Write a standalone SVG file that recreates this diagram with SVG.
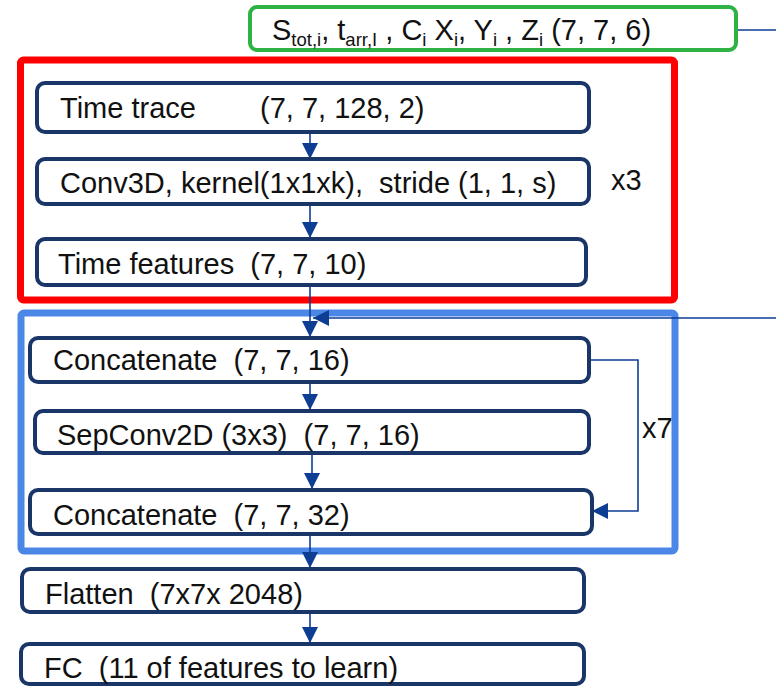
<svg xmlns="http://www.w3.org/2000/svg" width="776" height="687" viewBox="0 0 776 687">
<style>
text{font-family:"Liberation Sans",Arial,sans-serif;font-size:29px;fill:#111;white-space:pre}
.sub{font-size:18.5px}
.node{fill:#fff;stroke:#1a3668;stroke-width:4}
.conn{stroke:#0e3d94;stroke-width:1.6;fill:none}
</style>
<defs>
<marker id="ahl" markerWidth="16" markerHeight="16" refX="16" refY="8" orient="auto" markerUnits="userSpaceOnUse" viewBox="0 0 16 16">
<path d="M0,0 L16,8 L0,16 Z" fill="#0e3d94"/>
</marker>
</defs>
<rect width="776" height="687" fill="#fff"/>
<g id="group-time">
<rect x="20.5" y="60" width="654" height="240" rx="3" fill="none" stroke="#fe0000" stroke-width="7"/>
</g>
<g id="group-conv">
<rect x="21" y="313" width="654" height="238" rx="3" fill="none" stroke="#4a87e6" stroke-width="7"/>
</g>
<g id="connectors">
<line class="conn" x1="736" y1="30" x2="776" y2="30"/>
<line class="conn" x1="310" y1="133" x2="310" y2="159" marker-end="url(#ahl)"/>
<line class="conn" x1="310" y1="204" x2="310" y2="238" marker-end="url(#ahl)"/>
<line class="conn" x1="310" y1="285" x2="310" y2="337" marker-end="url(#ahl)"/>
<line class="conn" x1="776" y1="318" x2="313" y2="318" marker-end="url(#ahl)"/>
<line class="conn" x1="310" y1="382" x2="310" y2="410" marker-end="url(#ahl)"/>
<line class="conn" x1="312" y1="453" x2="312" y2="489" marker-end="url(#ahl)"/>
<polyline class="conn" points="589,360 638,360 638,511 592,511" marker-end="url(#ahl)"/>
<line class="conn" x1="310" y1="534" x2="310" y2="568" marker-end="url(#ahl)"/>
<line class="conn" x1="310" y1="612" x2="310" y2="643" marker-end="url(#ahl)"/>
</g>
<g id="node-input">
<rect x="250" y="7" width="486" height="43" rx="7" fill="#fff" stroke="#2eb244" stroke-width="4"/>
<text x="272" y="40">S<tspan class="sub" dy="6">tot,i</tspan><tspan dy="-6">, t</tspan><tspan class="sub" dy="6">arr,I</tspan><tspan dy="-6"> , C</tspan><tspan class="sub" dy="6">i</tspan><tspan dy="-6"> X</tspan><tspan class="sub" dy="6">i</tspan><tspan dy="-6">, Y</tspan><tspan class="sub" dy="6">i</tspan><tspan dy="-6"> , Z</tspan><tspan class="sub" dy="6">i</tspan><tspan dy="-6"> (7, 7, 6)</tspan></text>
</g>
<g id="node-timetrace">
<rect class="node" x="37" y="83" width="552" height="49" rx="8"/>
<text x="60" y="118">Time trace</text>
<text x="260" y="118">(7, 7, 128, 2)</text>
</g>
<g id="node-conv3d">
<rect class="node" x="37" y="159" width="552" height="45" rx="8"/>
<text x="60" y="193">Conv3D, kernel(1x1xk),  stride (1, 1, s)</text>
</g>
<text x="611" y="190">x3</text>
<g id="node-timefeatures">
<rect class="node" x="37" y="239" width="549" height="46" rx="8"/>
<text x="58" y="274">Time features  (7, 7, 10)</text>
</g>
<g id="node-concat16">
<rect class="node" x="30" y="338" width="559" height="44" rx="8"/>
<text x="53" y="370">Concatenate  (7, 7, 16)</text>
</g>
<g id="node-sepconv">
<rect class="node" x="35" y="411" width="554" height="42" rx="8"/>
<text x="57" y="445">SepConv2D (3x3)  (7, 7, 16)</text>
</g>
<g id="node-concat32">
<rect class="node" x="30" y="490" width="562" height="44" rx="8"/>
<text x="53" y="525">Concatenate  (7, 7, 32)</text>
</g>
<text x="642" y="438">x7</text>
<g id="node-flatten">
<rect class="node" x="22" y="569" width="562" height="43" rx="8"/>
<text x="45" y="604">Flatten  (7x7x 2048)</text>
</g>
<g id="node-fc">
<rect class="node" x="21" y="644" width="563" height="40" rx="8"/>
<text x="44" y="678">FC  (11 of features to learn)</text>
</g>
</svg>
